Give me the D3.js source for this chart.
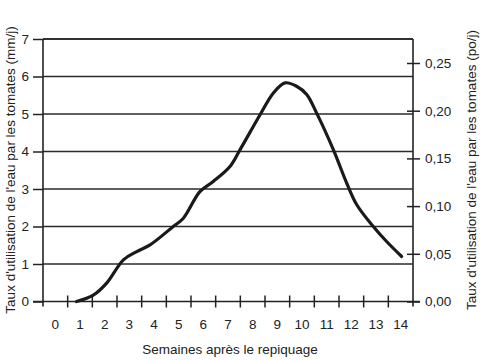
<!DOCTYPE html>
<html><head><meta charset="utf-8">
<script src="https://cdn.jsdelivr.net/npm/d3@7"></script>
<style>body{margin:0;background:#fff}svg{display:block}text{font-family:"Liberation Sans",Arial,sans-serif;fill:#222}</style>
</head><body><svg id="c" width="486" height="360"></svg>
<script>
const weeks = [0.86,1.54,2.08,2.76,3.3,3.84,4.78,5.19,5.86,6.4,7.08,7.49,8.3,8.84,9.31,9.78,10.19,10.59,11.27,11.81,12.22,12.89,13.43,14.04];
const usage = [0,0.17,0.49,1.11,1.33,1.51,2.0,2.22,2.93,3.2,3.6,4.05,4.98,5.56,5.83,5.74,5.52,5.03,4.05,3.16,2.58,2.0,1.6,1.2];
const xLabels = [0,1,2,3,4,5,6,7,8,9,10,11,12,13,14];
const xTickPos = [0.5,1.5,2.5,3.5,4.5,5.5,6.5,7.5,8.5,9.5,10.5,11.5,12.5,13.5];
const leftTicks = [0,1,2,3,4,5,6,7];
const rightTicks = [0,0.05,0.10,0.15,0.20,0.25];
const xTitle = "Semaines après le repiquage";
const yTitleL = "Taux d'utilisation de l'eau par les tomates (mm/j)";
const yTitleR = "Taux d'utilisation de l'eau par les tomates (po/j)";

const svg = d3.select("#c");
const L=43, R=413, T=39, B=301.5;
const x = d3.scaleLinear().domain([-0.5,14.5]).range([L,R]);
const y = d3.scaleLinear().domain([0,7]).range([B,T]);
const y2 = d3.scaleLinear().domain([0,0.25]).range([B,63]);
const ink="#222";

// gridlines
svg.append("g").selectAll("line").data(leftTicks.slice(1)).join("line")
  .attr("x1",L).attr("x2",R).attr("y1",d=>y(d)).attr("y2",d=>y(d))
  .attr("stroke","#2a2a2a").attr("stroke-width",1.7);

// left axis
const gl = svg.append("g").attr("transform",`translate(${L},0)`)
  .call(d3.axisLeft(y).tickValues(leftTicks).tickSize(10).tickPadding(4).tickFormat(d3.format("d")));
gl.select(".domain").remove();
gl.selectAll("line").attr("stroke",ink).attr("stroke-width",1.5);
gl.selectAll("text").attr("font-size",13.5).style("font-family",'"Liberation Sans",Arial,sans-serif').attr("fill",ink);
svg.append("line").attr("x1",L).attr("x2",L).attr("y1",T).attr("y2",B+5).attr("stroke",ink).attr("stroke-width",1.6);

// right axis
const gr = svg.append("g").attr("transform",`translate(${R},0)`)
  .call(d3.axisRight(y2).tickValues(rightTicks).tickSize(7).tickPadding(5).tickFormat(d=>d3.format(".2f")(d).replace(".",",")));
gr.select(".domain").remove();
gr.selectAll(".tick line").attr("x1",-6).attr("stroke",ink).attr("stroke-width",1.5);
gr.selectAll("text").attr("font-size",13.5).style("font-family",'"Liberation Sans",Arial,sans-serif').attr("fill",ink);
svg.append("line").attr("x1",R).attr("x2",R).attr("y1",T).attr("y2",B+5).attr("stroke",ink).attr("stroke-width",1.6);

// top border
svg.append("line").attr("x1",L).attr("x2",R).attr("y1",T).attr("y2",T).attr("stroke",ink).attr("stroke-width",1.6);

// bottom axis
svg.append("line").attr("x1",33).attr("x2",R+7).attr("y1",B).attr("y2",B).attr("stroke",ink).attr("stroke-width",1.6);
const gb = svg.append("g").attr("transform",`translate(0,${B})`);
gb.selectAll("line.t").data(xTickPos).join("line").attr("class","t")
  .attr("x1",d=>x(d)).attr("x2",d=>x(d)).attr("y1",-6).attr("y2",6)
  .attr("stroke",ink).attr("stroke-width",1.5);
gb.selectAll("text").data(xLabels).join("text")
  .attr("x",d=>x(d)).attr("y",27).attr("text-anchor","middle").attr("font-size",13.5).text(d=>d);

// curve
const pts = weeks.map((w,i)=>[w,usage[i]]);
svg.append("path").datum(pts)
  .attr("d",d3.line().x(d=>x(d[0])).y(d=>y(d[1])).curve(d3.curveCatmullRom.alpha(0.5)))
  .attr("fill","none").attr("stroke","#1a1a1a").attr("stroke-width",3.2).attr("stroke-linecap","round");

// titles
svg.append("text").attr("x",(L+R)/2+2).attr("y",354).attr("text-anchor","middle").attr("font-size",13.5).text(xTitle);
svg.append("text").attr("transform","translate(15,170) rotate(-90)").attr("text-anchor","middle").attr("font-size",13.5).text(yTitleL);
svg.append("text").attr("transform","translate(476,170) rotate(-90)").attr("text-anchor","middle").attr("font-size",13.5).text(yTitleR);
</script></body></html>
